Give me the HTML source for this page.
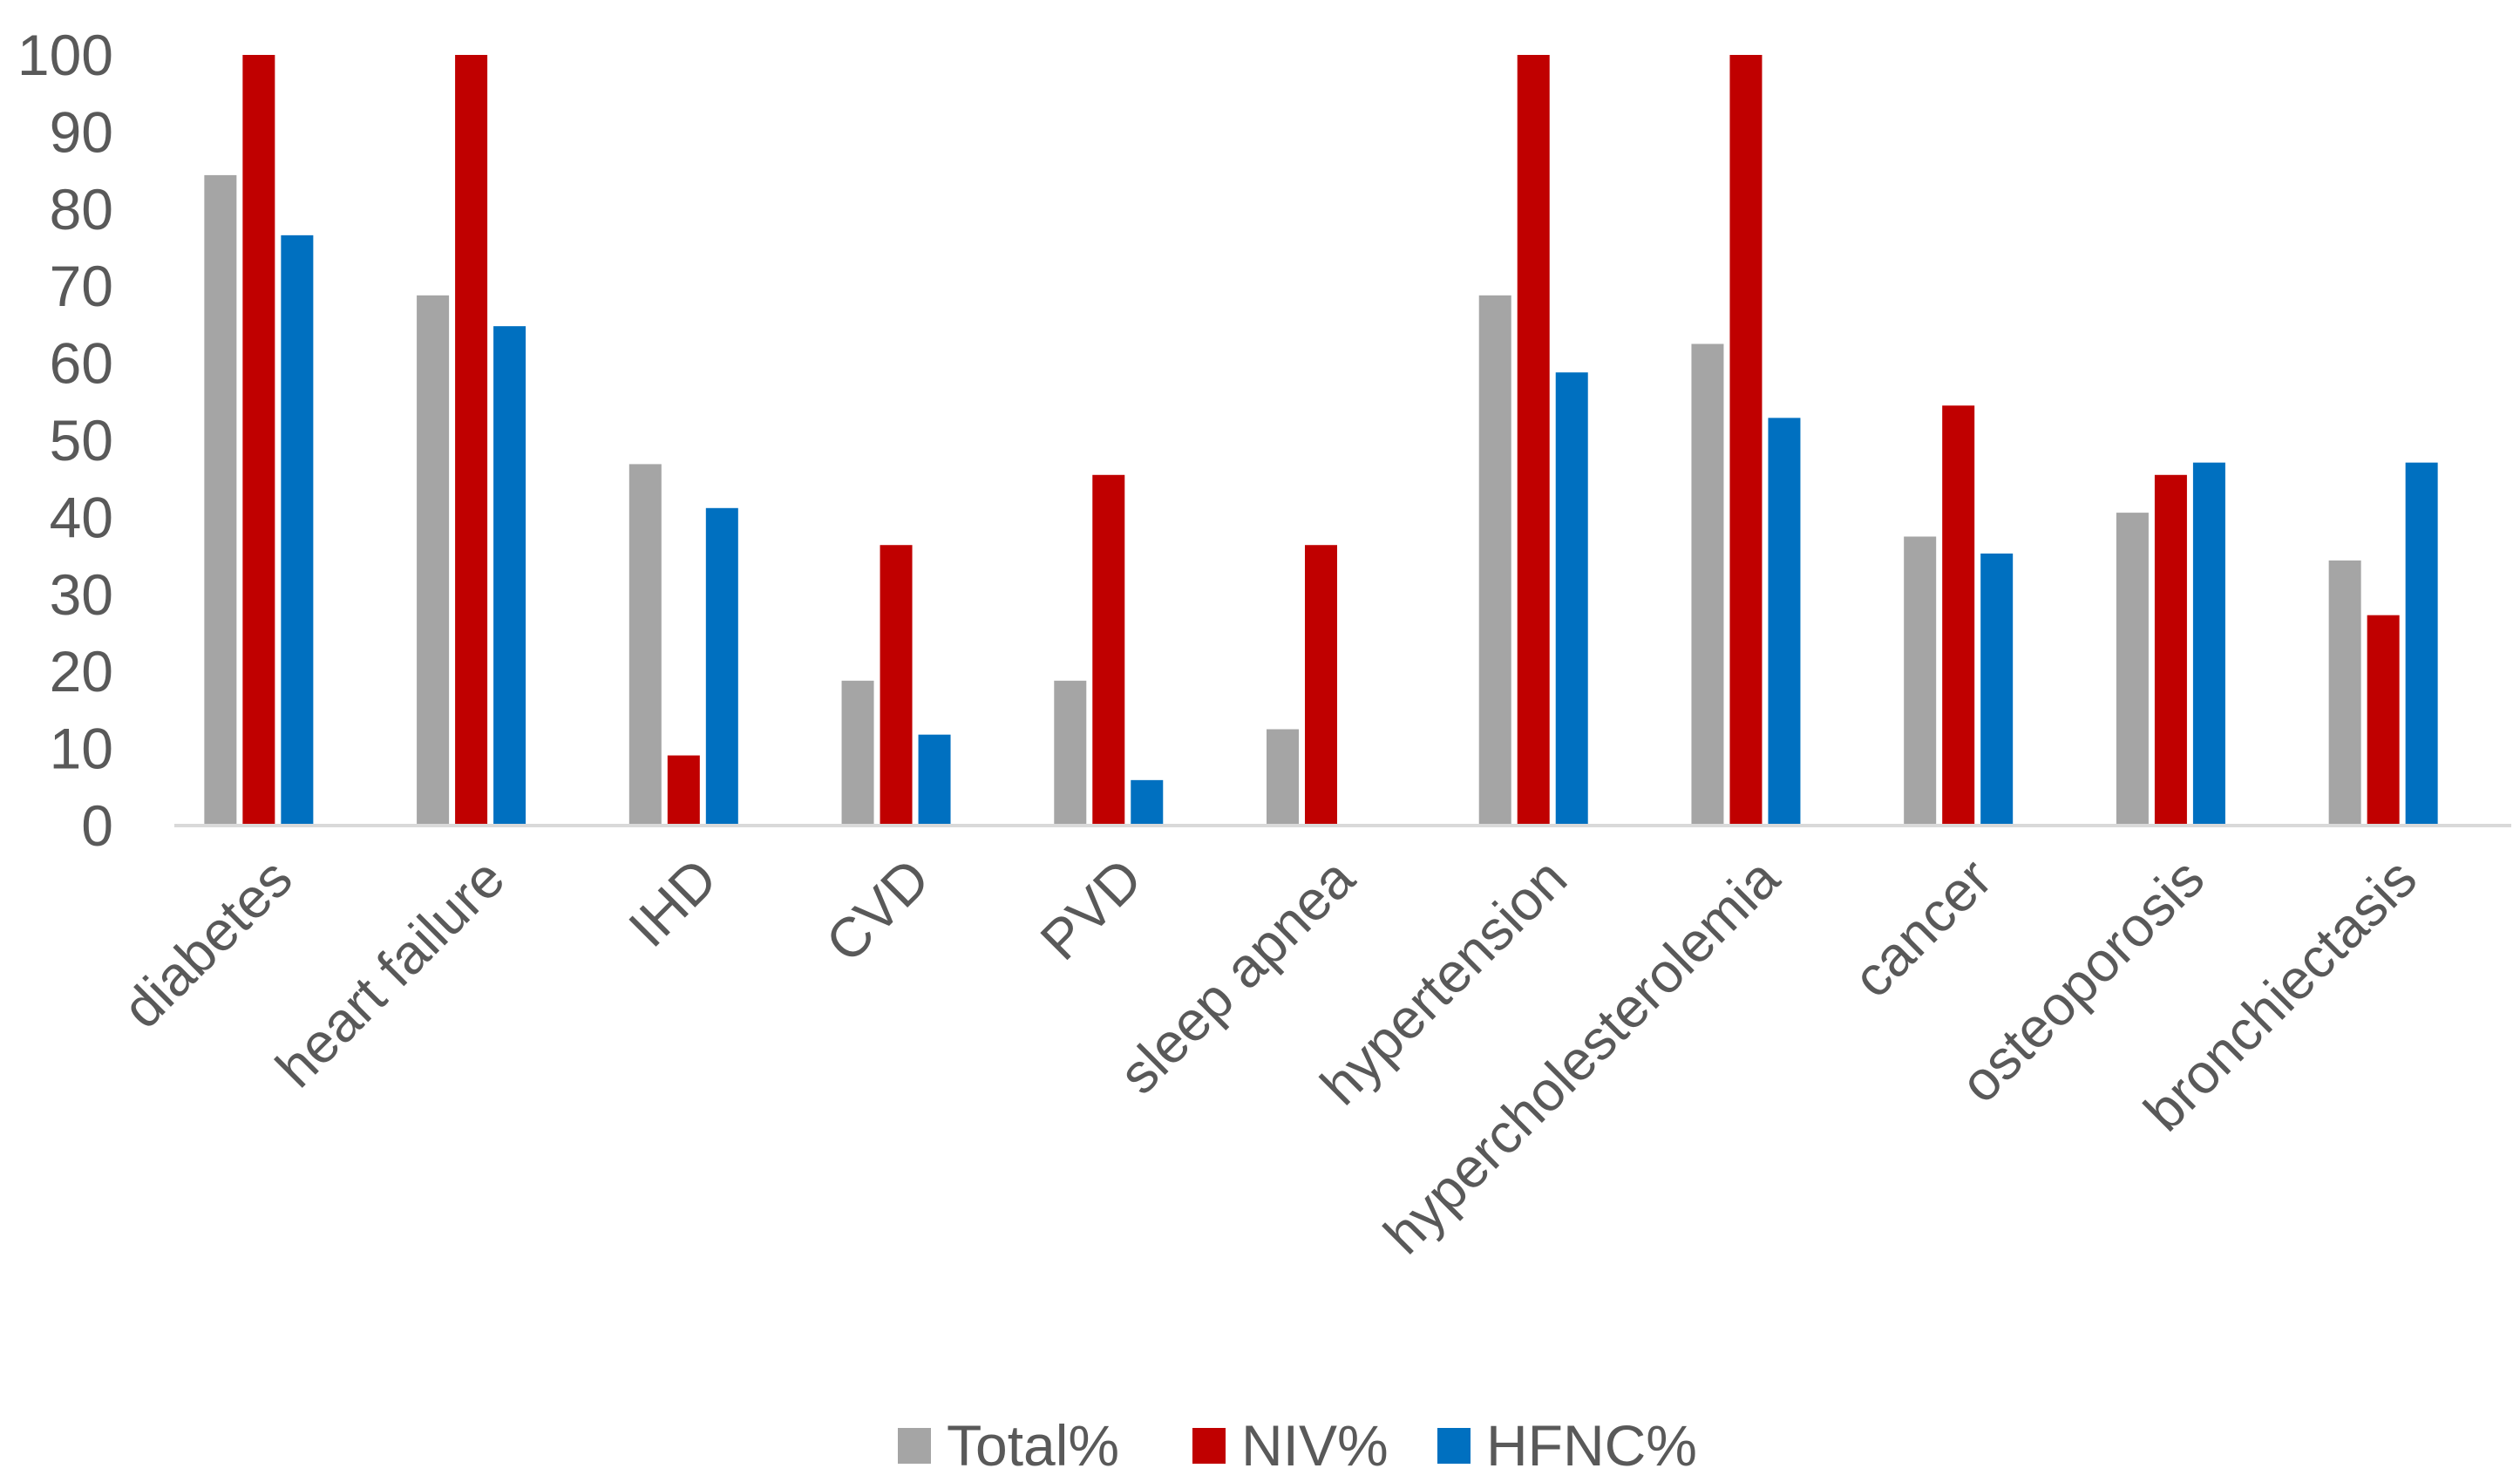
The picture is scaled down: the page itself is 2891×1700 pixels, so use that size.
<!DOCTYPE html>
<html><head><meta charset="utf-8"><style>
html,body{margin:0;padding:0;background:#fff;}
svg{display:block;font-family:"Liberation Sans",sans-serif;}
</style></head><body>
<svg id="chart" width="2891" height="1700" viewBox="0 0 2891 1700">
<g id="yaxis"></g>
<g id="bars"></g>
<line x1="200" y1="947" x2="2881" y2="947" stroke="#d9d9d9" stroke-width="4"/>
<g id="xaxis"></g>
<g id="legend"></g>
</svg>
<script>
const categories = ["diabetes","heart failure","IHD","CVD","PVD","sleep apnea","hypertension","hypercholesterolemia","cancer","osteoporosis","bronchiectasis"];
const totalValues = [84.4,68.8,46.9,18.8,18.8,12.5,68.8,62.5,37.5,40.6,34.4];
const nivValues = [100,100,9.1,36.4,45.5,36.4,100,100,54.5,45.5,27.3];
const hfncValues = [76.6,64.8,41.2,11.8,5.9,0,58.8,52.9,35.3,47.1,47.1];
const yTicks = [0,10,20,30,40,50,60,70,80,90,100];
const seriesNames = ["Total%","NIV%","HFNC%"];
const seriesColors = ["#a5a5a5","#c00000","#0070c0"];

const NS="http://www.w3.org/2000/svg";
const x0=175, x1=2856, y0=947, y100=63;
const band=(x1-x0)/categories.length;
function xCenter(i){return x0+band*(i+0.5);}
function yScale(v){return y0-(y0-y100)*v/100;}
function mk(t,a,p){const e=document.createElementNS(NS,t);for(const k in a)e.setAttribute(k,a[k]);p.appendChild(e);return e;}

const ya=document.getElementById('yaxis');
yTicks.forEach(v=>{
  const t=mk('text',{x:130,y:yScale(v)+23,'text-anchor':'end','font-size':66,fill:'#595959'},ya);
  
  
  t.textContent=v;
});

const bg=document.getElementById('bars');
const series=[totalValues,nivValues,hfncValues];
const bw=37, step=44;
categories.forEach((c,i)=>{
  series.forEach((s,j)=>{
    const v=s[i]; if(v<=0) return;
    const x=xCenter(i)+(j-1)*step-bw/2;
    const r=mk('rect',{x:x,y:yScale(v),width:bw,height:y0-yScale(v),fill:seriesColors[j]},bg);
    
    
  });
});

const xa=document.getElementById('xaxis');
categories.forEach((c,i)=>{
  const cx=xCenter(i)+42, cy=1012;
  const t=mk('text',{x:cx,y:cy,'text-anchor':'end','font-size':64,fill:'#595959',transform:`rotate(-45 ${cx} ${cy})`},xa);
  
  
  t.textContent=c;
});

const lg=document.getElementById('legend');
const lx=[1030,1368,1649];
seriesNames.forEach((n,j)=>{
  const r=mk('rect',{x:lx[j],y:1638,width:38,height:41,fill:seriesColors[j]},lg);
  
  
  const t=mk('text',{x:lx[j]+56,y:1681,'font-size':66,fill:'#595959'},lg);
  
  
  t.textContent=n;
});
</script>
</body></html>
